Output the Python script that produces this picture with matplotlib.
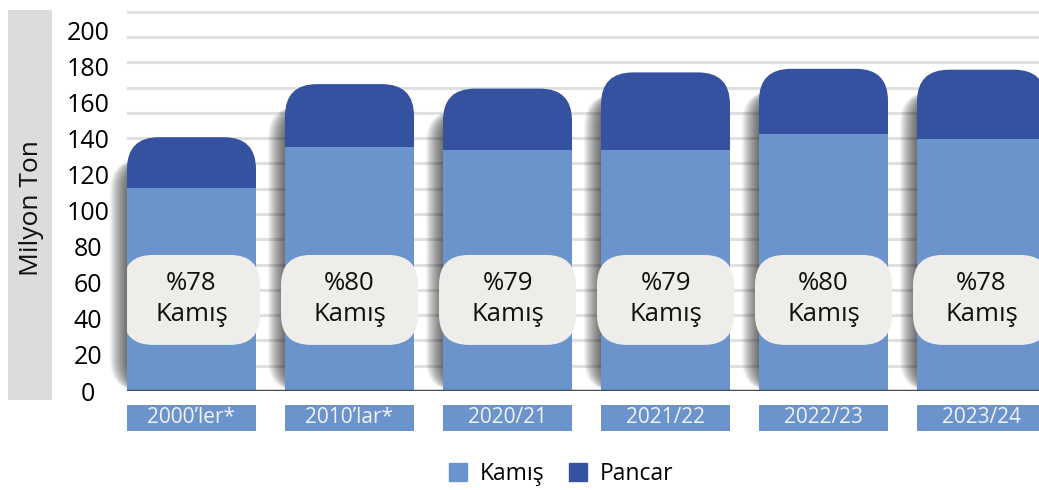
import numpy as np
import matplotlib
matplotlib.use('Agg')
import matplotlib.pyplot as plt
from matplotlib.patches import FancyBboxPatch, Rectangle
from matplotlib.lines import Line2D

plt.rcParams['font.family'] = ['Open Sans', 'DejaVu Sans']

# data (million tonnes)
seasons = ['2000\u2019ler*', '2010\u2019lar*', '2020/21', '2021/22', '2022/23', '2023/24']
kamis = [113, 135.5, 134, 134, 143, 140]
total = [141, 170.5, 168, 177, 179, 178.5]
kamis_share = ['%78', '%80', '%79', '%79', '%80', '%78']
yticks = list(range(0, 201, 20))

kamis_color = '#6c94cc'
pancar_color = '#3552a0'

W, H = 1039, 490
fig = plt.figure(figsize=(W / 100, H / 100), dpi=100)

# axes placed in pixels
ax_left, ax_right, ax_top, ax_bottom = 127, 1039, 10, 391
ax = fig.add_axes([ax_left / W, (H - ax_bottom) / H,
                   (ax_right - ax_left) / W, (ax_bottom - ax_top) / H])
px_x = 158.0   # pixels per category
px_y = 1.8     # pixels per million tonnes
bar_w = 129 / px_x
x0 = -bar_w / 2
ytop = (ax_bottom - ax_top) / px_y
aspect = px_x / px_y
ax.set_xlim(x0, x0 + (ax_right - ax_left) / px_x)
ax.set_ylim(0, ytop)

for s in ax.spines.values():
    s.set_visible(False)
ax.set_xticks([])
ax.tick_params(axis='y', length=0, labelsize=18, pad=28)
ax.set_yticks(yticks)
ax.set_yticklabels([str(v) for v in yticks])
for lbl in ax.get_yticklabels():
    lbl.set_ha('center')

# decorative grid lines
for gy in np.linspace(0, ytop - 1.0, 16):
    ax.axhline(gy, color='#e0e0e0', lw=2.2, zorder=0)

x = np.arange(len(seasons))
r = 32 / px_x
for i in x:
    left = i - bar_w / 2
    # soft shadow: shifted, translucent copies of the bar shape
    for k in range(1, 18):
        sh = FancyBboxPatch((left - k / px_x, 0), bar_w, total[i] - 22 / px_y,
                            boxstyle='round,pad=0,rounding_size=%f' % r,
                            mutation_aspect=aspect, fc='black', ec='none',
                            alpha=0.045, zorder=1, clip_on=False)
        ax.add_patch(sh)
    top = FancyBboxPatch((left, 0), bar_w, total[i],
                         boxstyle='round,pad=0,rounding_size=%f' % r,
                         mutation_aspect=aspect, fc=pancar_color, ec='none', zorder=2)
    ax.add_patch(top)
ax.bar(x, kamis, width=bar_w, color=kamis_color, zorder=3)
ax.set_xlim(x0, x0 + (ax_right - ax_left) / px_x)
ax.set_ylim(0, ytop)

ax.axhline(0, color='#474c57', lw=2.5, zorder=4)

# share labels
box_w = (129 + 8) / px_x
for i in x:
    b = FancyBboxPatch((i - box_w / 2, 25.6), box_w, 50,
                       boxstyle='round,pad=0,rounding_size=%f' % (30 / px_x),
                       mutation_aspect=aspect, fc='#eeedea', ec='none', zorder=5)
    ax.add_patch(b)
    ax.text(i, 51, kamis_share[i] + '\nKam\u0131\u015f', ha='center', va='center',
            fontsize=18.5, color='#111111', linespacing=1.3, zorder=6)

# category boxes below the axis
for i in x:
    b = Rectangle((i - bar_w / 2, -7.5), bar_w, -14.5, fc=kamis_color, ec='none',
                  clip_on=False, zorder=5)
    ax.add_patch(b)
    ax.text(i, -14.8, seasons[i], ha='center', va='center', fontsize=15,
            color='#f2f2f2', clip_on=False, zorder=6)

# y label in grey band
fig.patches.append(Rectangle((8 / W, (H - 400) / H), 44 / W, 390 / H,
                             transform=fig.transFigure, fc='#dcdcdc', ec='none'))
fig.text(31 / W, (H - 208) / H, 'Milyon Ton', rotation=90, ha='center', va='center',
         fontsize=19, color='#111111')

handles = [Line2D([], [], marker='s', ls='', markersize=13, color=kamis_color),
           Line2D([], [], marker='s', ls='', markersize=13, color=pancar_color)]
fig.legend(handles, ['Kam\u0131\u015f', 'Pancar'], loc='center',
           bbox_to_anchor=(560 / W, (H - 474) / H), ncol=2, frameon=False,
           fontsize=16.5, handletextpad=0.45, columnspacing=1.0, handlelength=1.0)

fig.savefig('out.png', dpi=100)
